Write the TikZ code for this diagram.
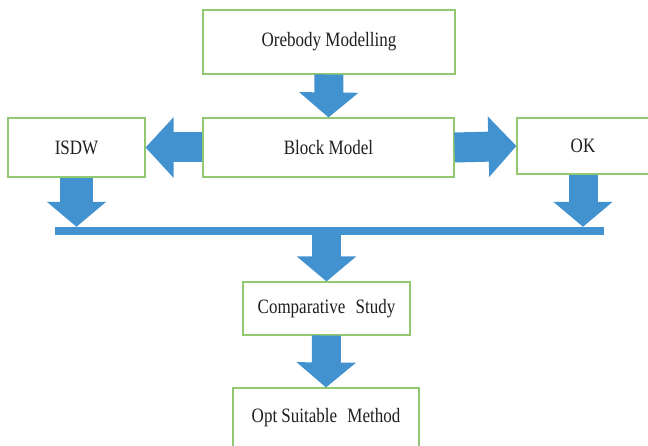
\documentclass[tikz,border=0pt]{standalone}
\usepackage{fontspec}
\setmainfont{Liberation Serif}
\usepackage{graphicx}
\usetikzlibrary{arrows.meta, calc}
\definecolor{flowblue}{RGB}{66,146,208}
\definecolor{boxgreen}{RGB}{146,200,112}
\newcommand{\tallx}[1]{\scalebox{1}[1.2]{#1}}
\tikzset{
    stage/.style={draw=boxgreen, line width=1.1bp, fill=white, inner sep=0pt,
        font=\fontsize{17bp}{20bp}\selectfont, text=black!88},
    bigarrow/.style={draw=flowblue, line width=29bp,
        -{Triangle[length=25bp, width=58bp]}},
    sidearrow/.style={bigarrow, line width=30bp,
        -{Triangle[length=28bp, width=59bp]}},
    joinbar/.style={fill=flowblue, inner sep=0pt, minimum width=549bp,
        minimum height=8bp}
}

\begin{document}
\begin{tikzpicture}[x=1bp, y=-1bp]
                    \useasboundingbox (0,0) rectangle (648,446);

                    \node[stage, minimum width=252bp, minimum height=64bp]
                    (ore) at (329,42) {\tallx{Orebody Modelling}};
                    \node[stage, minimum width=251bp, minimum height=59bp]
                    (blk) at (328.5,147.5) {\tallx{Block Model}};
                    \node[stage, minimum width=137bp, minimum height=59bp]
                    (isdw) at (76.5,147.5) {\tallx{ISDW}};
                    \node[stage, minimum width=132bp, minimum height=56bp]
                    (ok) at (583,146) {\tallx{OK}};

                    % bar joining both estimates
                    \node[joinbar] (bar) at (329.5,231) {};

                    \node[stage, minimum width=167bp, minimum height=53bp]
                    (cmp) at (326.5,308.5) {\tallx{Comparative\hspace{0.6em}Study}};
                    \node[stage, minimum width=186bp, minimum height=60bp]
                    (opt) at (326,418) {\tallx{Opt Suitable\hspace{0.6em}Method}};

                    \draw[bigarrow] (ore.south) -- (blk.north);
                    \draw[sidearrow] (blk.west) -- (isdw.east);
                    \draw[sidearrow] (blk.east) -- (ok.west);

                    \draw[bigarrow, line width=33bp] (isdw.south) -- (isdw.south |- bar.north);
                    \draw[bigarrow] (ok.south) -- (ok.south |- bar.north);

                    \draw[bigarrow] (bar.south -| cmp.north) -- (cmp.north);
                    \draw[bigarrow] (cmp.south) -- (opt.north);
\end{tikzpicture}
\end{document}
